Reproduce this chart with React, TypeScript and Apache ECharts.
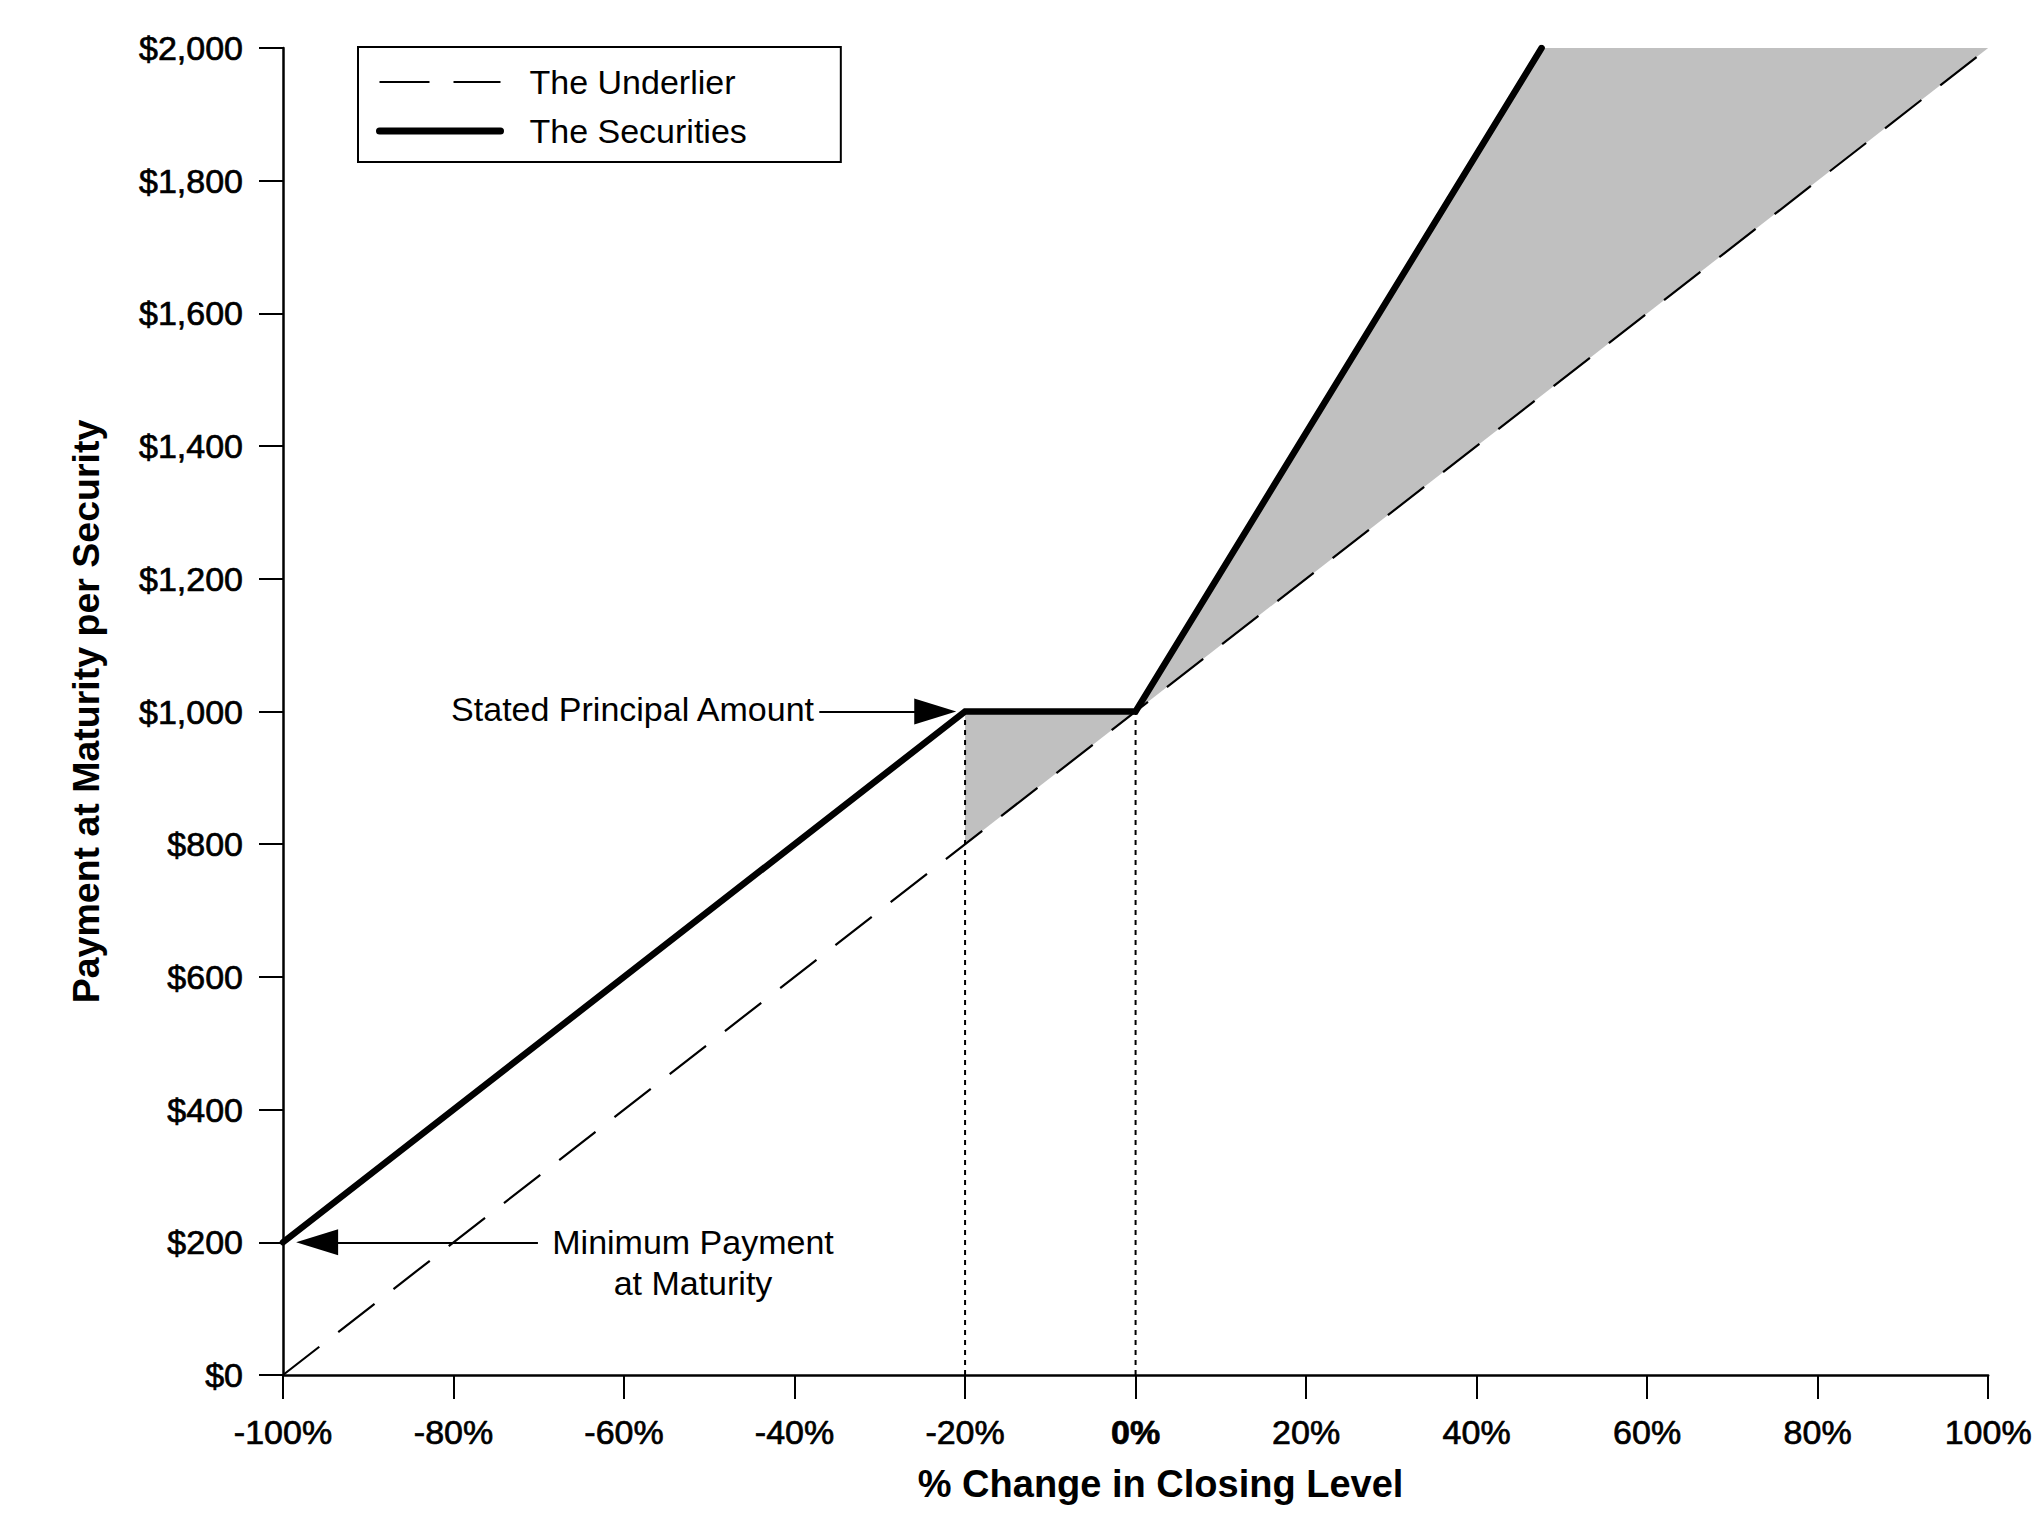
import React, { useEffect, useRef } from "react";
import * as echarts from "echarts";

const FONT = "'Liberation Sans', Arial, Helvetica, sans-serif";

const xTicks = { min: -100, max: 100, step: 20 };
const yTicks = { min: 0, max: 2000, step: 200 };

const underlierData: [number, number][] = [
  [-100, 0],
  [100, 2000],
];

const securitiesData: [number, number][] = [
  [-100, 200],
  [-20, 1000],
  [0, 1000],
  [47.62, 2000],
];

const shadeRegions: [number, number][][] = [
  [
    [-20, 800],
    [-20, 1000],
    [0, 1000],
  ],
  [
    [0, 1000],
    [47.62, 2000],
    [100, 2000],
  ],
];

const dottedLines: [number, number][][] = [
  [
    [-20, 0],
    [-20, 1000],
  ],
  [
    [0, 0],
    [0, 1000],
  ],
];

const principalArrow: [number, number][] = [
  [-37.1, 1000],
  [-23.5, 1000],
];
const minimumArrow: [number, number][] = [
  [-70.1, 200],
  [-96.0, 200],
];

export default function App() {
  const ref = useRef<HTMLDivElement>(null);

  useEffect(() => {
    document.body.style.margin = "0";
    if (!ref.current) return;
    const chart = echarts.init(ref.current, null, { renderer: "svg" });

    const tickText = {
      fontFamily: FONT,
      fontSize: 34,
      color: "#000",
      textBorderColor: "#000",
      textBorderWidth: 0.7,
    };

    const option: any = {
      animation: false,
      backgroundColor: "#ffffff",
      textStyle: { fontFamily: FONT, color: "#000" },
      grid: { left: 283, right: 36, top: 48, bottom: 158, containLabel: false },
      legend: {
        left: 358,
        top: 47,
        orient: "vertical",
        data: [
          { name: "The Underlier", lineStyle: { width: 2.2, type: [50, 24], color: "#000" } },
          { name: "The Securities", lineStyle: { width: 7, type: "solid", color: "#000", cap: "round" } },
        ],
        itemWidth: 121,
        itemHeight: 30,
        itemGap: 15,
        padding: [18, 94, 14, 18],
        borderColor: "#000",
        borderWidth: 2,
        borderRadius: 0,
        selectedMode: false,
        itemStyle: { opacity: 0, borderWidth: 0 },
        textStyle: {
          fontFamily: FONT,
          fontSize: 34,
          color: "#000",
          padding: [0, 0, 0, 24],
        },
      },
      xAxis: {
        type: "value",
        min: xTicks.min,
        max: xTicks.max,
        interval: xTicks.step,
        splitLine: { show: false },
        axisLine: { show: true, onZero: false, lineStyle: { color: "#000", width: 2.5 } },
        axisTick: { show: true, length: 24, lineStyle: { color: "#000", width: 2 } },
        axisLabel: {
          margin: 40,
          ...tickText,
          formatter: (v: number) => (v === 0 ? "{b|0%}" : `${v}%`),
          rich: { b: { ...tickText, fontWeight: "bold" } },
        },
        name: "% Change in Closing Level",
        nameLocation: "middle",
        nameGap: 90,
        nameTextStyle: {
          fontFamily: FONT,
          fontSize: 38,
          fontWeight: "bold",
          color: "#000",
          padding: [0, 0, 0, 50],
        },
      },
      yAxis: {
        type: "value",
        min: yTicks.min,
        max: yTicks.max,
        interval: yTicks.step,
        splitLine: { show: false },
        axisLine: { show: true, onZero: false, lineStyle: { color: "#000", width: 2.5 } },
        axisTick: { show: true, length: 24, lineStyle: { color: "#000", width: 2 } },
        axisLabel: {
          margin: 40,
          ...tickText,
          formatter: (v: number) => "$" + v.toLocaleString("en-US"),
        },
        name: "Payment at Maturity per Security",
        nameLocation: "middle",
        nameGap: 178,
        nameTextStyle: { fontFamily: FONT, fontSize: 37.5, fontWeight: "bold", color: "#000" },
      },
      series: [
        {
          type: "custom",
          name: "shade",
          silent: true,
          z: 1,
          data: shadeRegions.map((r) => r[0]),
          renderItem: (params: any, api: any) => {
            const poly = shadeRegions[params.dataIndex];
            return {
              type: "polygon",
              shape: { points: poly.map((p) => api.coord(p)) },
              style: { fill: "#c0c0c0", stroke: "none" },
            };
          },
        },
        ...dottedLines.map((d, i) => ({
          type: "line",
          name: "dotted" + i,
          data: d,
          symbol: "none",
          silent: true,
          z: 2,
          lineStyle: { color: "#000", width: 2, type: [5, 5] },
        })),
        {
          type: "line",
          name: "The Underlier",
          data: underlierData,
          symbol: "none",
          z: 3,
          color: "#000",
          lineStyle: { color: "#000", width: 2.2, type: [46, 24] },
        },
        {
          type: "line",
          name: "The Securities",
          data: securitiesData,
          symbol: "none",
          z: 4,
          color: "#000",
          lineStyle: { color: "#000", width: 6.5, cap: "round", join: "miter" },
          markLine: {
            silent: true,
            symbol: ["none", "triangle"],
            symbolSize: [26, 42],
            label: { show: false },
            lineStyle: { color: "#000", width: 2, type: "solid" },
            itemStyle: { color: "#000" },
            data: [
              [{ coord: principalArrow[0] }, { coord: principalArrow[1] }],
              [{ coord: minimumArrow[0] }, { coord: minimumArrow[1] }],
            ],
          },
        },
      ],
      graphic: [
        {
          type: "text",
          x: 814,
          y: 709,
          style: {
            text: "Stated Principal Amount",
            fontFamily: FONT,
            fontSize: 34,
            fill: "#000",
            align: "right",
            verticalAlign: "middle",
          },
        },
        {
          type: "text",
          x: 693,
          y: 1262,
          style: {
            text: "Minimum Payment\nat Maturity",
            fontFamily: FONT,
            fontSize: 34,
            lineHeight: 41,
            fill: "#000",
            align: "center",
            verticalAlign: "middle",
          },
        },
      ],
    };

    chart.setOption(option);
    return () => chart.dispose();
  }, []);

  return (
    <div
      ref={ref}
      style={{ position: "fixed", left: 0, top: 0, width: 2035, height: 1533, background: "#fff" }}
    />
  );
}
